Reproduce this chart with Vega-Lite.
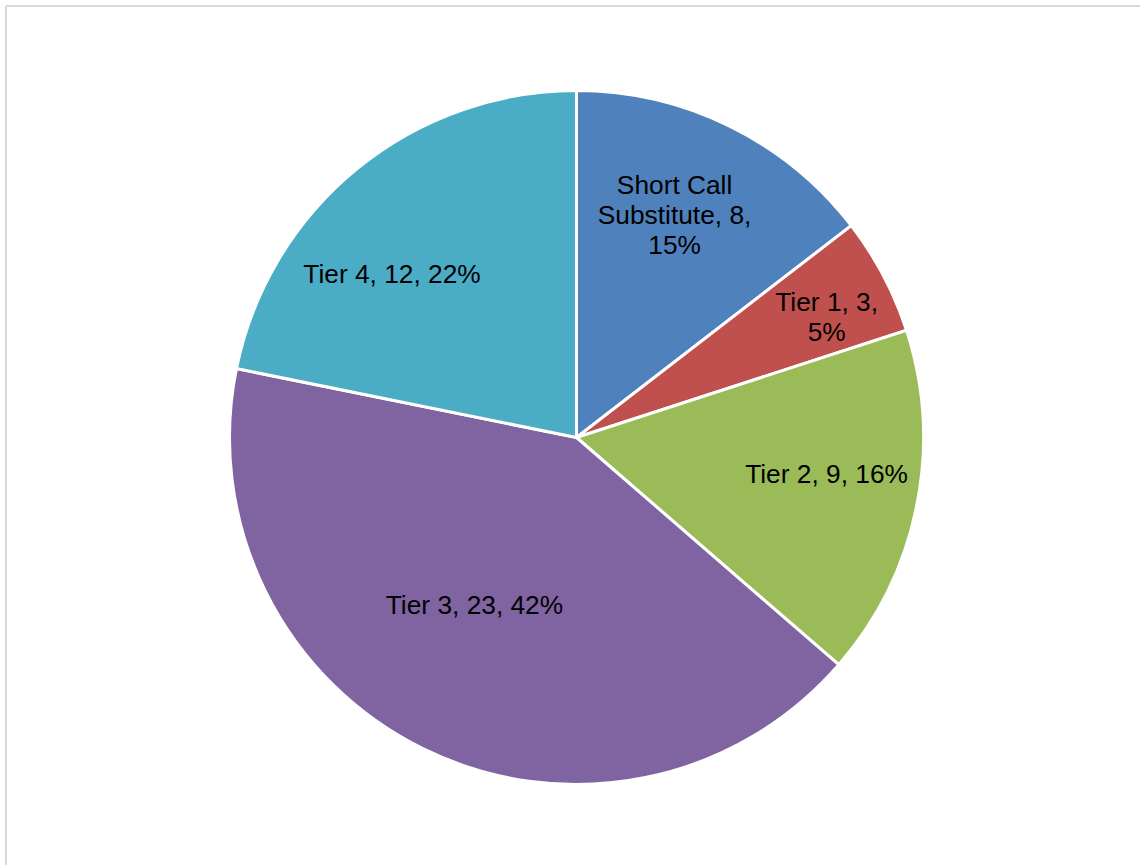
{
  "$schema": "https://vega.github.io/schema/vega-lite/v6.json",
  "width": 1134,
  "height": 859,
  "autosize": "none",
  "padding": {"left": 6, "top": 6, "right": 0, "bottom": 0},
  "background": "white",
  "view": {"stroke": "#d9d9d9", "strokeWidth": 2, "strokeDash": [1134, 1993, 859, 0]},
  "config": {
    "text": {"lineBreak": "\n"}
  },
  "data": {
    "values": [
      {"category": "Short Call Substitute", "value": 8, "label": "Short Call\nSubstitute, 8,\n15%"},
      {"category": "Tier 1", "value": 3, "label": "Tier 1, 3,\n5%"},
      {"category": "Tier 2", "value": 9, "label": "Tier 2, 9, 16%"},
      {"category": "Tier 3", "value": 23, "label": "Tier 3, 23, 42%"},
      {"category": "Tier 4", "value": 12, "label": "Tier 4, 12, 22%"}
    ]
  },
  "layer": [
    {
      "mark": {"type": "arc", "outerRadius": 347, "stroke": "white", "strokeWidth": 3, "xOffset": 3.5, "yOffset": 2},
      "encoding": {
        "theta": {"field": "value", "type": "quantitative", "stack": true},
        "color": {
          "field": "category",
          "type": "nominal",
          "scale": {
            "domain": ["Short Call Substitute", "Tier 1", "Tier 2", "Tier 3", "Tier 4"],
            "range": ["#4F81BD", "#C0504D", "#9BBB59", "#8064A2", "#4BACC6"]
          },
          "legend": null
        }
      }
    },
    {
      "mark": {
        "type": "text",
        "font": "Liberation Sans",
        "fontSize": 26.3,
        "lineHeight": 30,
        "fill": "black",
        "align": "center",
        "baseline": "middle",
        "xOffset": 3.5,
        "yOffset": 2,
        "thetaOffset": {"expr": "datum.value == 8 ? -0.0855 : datum.value == 3 ? -0.007 : datum.value == 9 ? -0.0497 : datum.value == 23 ? 0.0873 : -0.164"}
      },
      "encoding": {
        "theta": {"field": "value", "type": "quantitative", "stack": true},
        "detail": {"field": "category", "type": "nominal"},
        "radius": {
          "field": "value",
          "type": "quantitative",
          "scale": {"domain": [3, 8, 9, 12, 23], "range": [283.9, 270.2, 252.9, 245.7, 197.1], "nice": false, "zero": false}
        },
        "text": {"field": "label", "type": "nominal"}
      }
    }
  ]
}
